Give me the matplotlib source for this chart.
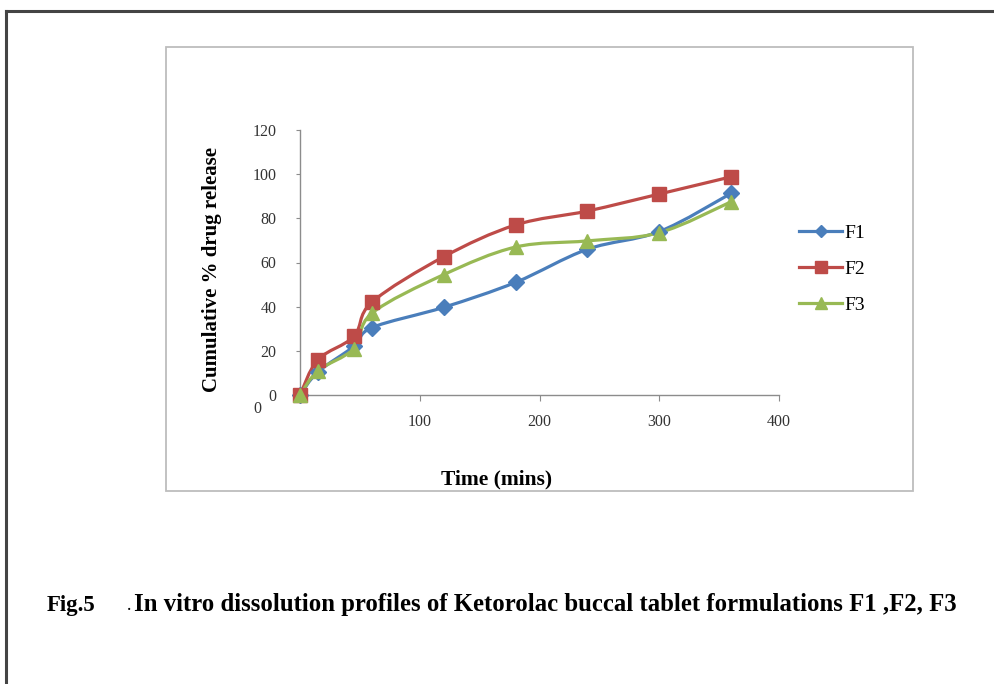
import matplotlib
matplotlib.use("Agg")
import matplotlib.pyplot as plt
import numpy as np
from matplotlib.path import Path
from matplotlib.patches import PathPatch, Rectangle
from matplotlib.lines import Line2D

plt.rcParams['font.family'] = ['Liberation Serif', 'DejaVu Serif']

# data
time = [0, 15, 45, 60, 120, 180, 240, 300, 360]
f1 = [0, 10.5, 22, 30.5, 39.7, 51, 66, 74, 91.3]
f2 = [0, 16, 26.5, 42, 62.6, 77, 83.3, 91, 98.8]
f3 = [0, 11, 21, 37, 54.5, 67, 69.8, 73.5, 87.5]

series = [("F1", f1, "#4A7EBB", "D", 8),
          ("F2", f2, "#BE4B48", "s", 10),
          ("F3", f3, "#98B954", "^", 10)]

xticks = [100, 200, 300, 400]
yticks = [0, 20, 40, 60, 80, 100, 120]


def smooth_path(x, y, t=1 / 6.0):
    # excel style smoothed line: cubic bezier through the points
    p = np.column_stack([x, y]).astype(float)
    n = len(p)
    verts = [p[0]]
    codes = [Path.MOVETO]
    for i in range(n - 1):
        p0 = p[i - 1] if i > 0 else p[i]
        p3 = p[i + 2] if i + 2 < n else p[i + 1]
        c1 = p[i] + (p[i + 1] - p0) * t
        c2 = p[i + 1] - (p3 - p[i]) * t
        verts += [c1, c2, p[i + 1]]
        codes += [Path.CURVE4] * 3
    return Path(verts, codes)


W, H = 995, 684
fig = plt.figure(figsize=(W / 100, H / 100), dpi=100)

# outer page border and chart box
fig.add_artist(Line2D([6 / W, 6 / W], [0, 1 - 11 / H], color="#444444", lw=2.2))
fig.add_artist(Line2D([6 / W, 1], [1 - 11 / H, 1 - 11 / H], color="#444444", lw=2.2))
fig.add_artist(Rectangle((166 / W, 1 - 491 / H), (913 - 166) / W, (491 - 47) / H,
                         fill=False, ec="#bdbdbd", lw=1.3))

ax = fig.add_axes([300 / W, 1 - 395 / H, (779 - 300) / W, (395 - 130) / H])
ax.set_xlim(0, 400)
ax.set_ylim(0, 120)

for name, vals, col, mk, ms in series:
    ax.add_patch(PathPatch(smooth_path(time, vals), fill=False, ec=col, lw=2.3,
                           zorder=3, clip_on=False))
    ax.plot(time, vals, linestyle="none", marker=mk, ms=ms, color=col,
            mec=col, zorder=4, clip_on=False)

for s in ["top", "right"]:
    ax.spines[s].set_visible(False)
for s in ["left", "bottom"]:
    ax.spines[s].set_color("#8c8c8c")
    ax.spines[s].set_linewidth(1.0)

ax.set_xticks(xticks)
ax.set_xticklabels([str(v) for v in xticks])
ax.set_yticks(yticks)
ax.set_yticklabels([str(v) for v in yticks])
ax.tick_params(axis="y", direction="out", length=3, color="#8c8c8c",
               labelsize=11.5, labelcolor="#333333", pad=14)
ax.tick_params(axis="x", direction="out", length=4, color="#8c8c8c",
               labelsize=11.5, labelcolor="#333333", pad=10)
# stray zero label of the x axis
ax.text(-36, -6.5, "0", ha="center", va="center", fontsize=11.5, color="#333333",
        transform=ax.transData, clip_on=False)

fig.text(212 / W, 1 - 270 / H, "Cumulative % drug release", rotation=90,
         ha="center", va="center", fontsize=15, fontweight="bold")
fig.text(497 / W, 1 - 479 / H, "Time (mins)", ha="center", va="center",
         fontsize=15.5, fontweight="bold")

handles = [Line2D([], [], color=c, lw=2.3, marker=m, ms=s * 0.8) for _, _, c, m, s in series]
fig.legend(handles, [n for n, _, _, _, _ in series], loc="center left",
           bbox_to_anchor=(782 / W, 1 - 269 / H), frameon=False, fontsize=14,
           handlelength=2.2, handletextpad=0.1, labelspacing=0.95)

fig.text(47 / W, 1 - 605 / H, "Fig.5", ha="left", va="center", fontsize=16.5,
         fontweight="bold")
fig.text(127 / W, 1 - 605 / H, ".", ha="left", va="center", fontsize=13)
fig.text(134 / W, 1 - 605 / H,
         "In vitro dissolution profiles of Ketorolac buccal tablet formulations F1 ,F2, F3",
         ha="left", va="center", fontsize=17.8, fontweight="bold")

fig.savefig("out.png", dpi=100)
